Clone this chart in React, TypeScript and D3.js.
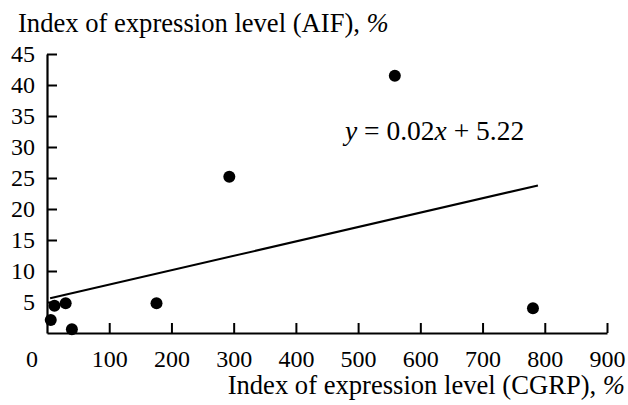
import React, { useEffect, useRef } from 'react';
import * as d3 from 'd3';

// CGRP index (x) vs AIF index (y)
const cgrp = [6, 12, 30, 40, 176, 293, 559, 781];
const aif = [2.1, 4.4, 4.8, 0.6, 4.8, 25.2, 41.5, 4.0];

// regression line endpoints as drawn
const fitX = [5, 789];
const fitY = [5.6, 23.8];

const xTicks = [100, 200, 300, 400, 500, 600, 700, 800, 900];
const yTicks = [5, 10, 15, 20, 25, 30, 35, 40, 45];

const FONT = "'Liberation Serif', 'Times New Roman', Times, serif";

const App = () => {
  const svgRef = useRef<SVGSVGElement>(null);

  useEffect(() => {
    const svg = d3.select(svgRef.current);
    svg.selectAll('*').remove();

    const width = 628;
    const height = 405;
    svg.attr('width', width).attr('height', height);

    const x = d3.scaleLinear().domain([0, 900]).range([47, 607]);
    const y = d3.scaleLinear().domain([0, 45]).range([333, 54]);

    // x axis, ticks pointing inward
    const gx = svg
      .append('g')
      .attr('transform', `translate(0,${y(0)})`)
      .call(
        d3.axisBottom(x).tickValues(xTicks).tickSizeInner(-10).tickSizeOuter(0).tickPadding(17)
      );
    gx.attr('font-size', 24);
    gx.select('.domain').attr('stroke-width', 2.2);
    gx.selectAll('.tick line').attr('stroke-width', 2);
    gx.selectAll('text').attr('fill', '#000');

    // y axis
    const gy = svg
      .append('g')
      .attr('transform', `translate(${x(0)},0)`)
      .call(
        d3.axisLeft(y).tickValues(yTicks).tickSizeInner(-10).tickSizeOuter(0).tickPadding(12)
      );
    gy.attr('font-size', 24);
    gy.select('.domain').attr('stroke-width', 2.2);
    gy.selectAll('.tick line').attr('stroke-width', 2);
    gy.selectAll('text').attr('fill', '#000');

    // shared origin label
    svg
      .append('text')
      .attr('x', 32)
      .attr('y', 367)
      .attr('text-anchor', 'middle')
      .attr('font-size', 24)
      .text('0');

    // regression line
    svg
      .append('line')
      .attr('x1', x(fitX[0]))
      .attr('y1', y(fitY[0]))
      .attr('x2', x(fitX[1]))
      .attr('y2', y(fitY[1]))
      .attr('stroke', '#000')
      .attr('stroke-width', 2);

    // points
    svg
      .selectAll('.pt')
      .data(cgrp)
      .enter()
      .append('circle')
      .attr('class', 'pt')
      .attr('cx', (d) => x(d))
      .attr('cy', (d, i) => y(aif[i]))
      .attr('r', 6)
      .attr('fill', '#000');

    // equation
    const eq = svg.append('text').attr('x', 345).attr('y', 140).attr('font-size', 27.5);
    eq.append('tspan').attr('font-style', 'italic').text('y');
    eq.append('tspan').text(' = 0.02');
    eq.append('tspan').attr('font-style', 'italic').text('x');
    eq.append('tspan').text(' + 5.22');

    // axis titles
    const yt = svg.append('text').attr('x', 18).attr('y', 32).attr('font-size', 26.6);
    yt.append('tspan').text('Index of expression level (AIF), ');
    yt.append('tspan').attr('font-style', 'italic').text('%');

    const xt = svg
      .append('text')
      .attr('x', 625)
      .attr('y', 394)
      .attr('text-anchor', 'end')
      .attr('font-size', 26.6);
    xt.append('tspan').text('Index of expression level (CGRP), ');
    xt.append('tspan').attr('font-style', 'italic').text('%');

    // one font for every text, axis groups included
    svg.selectAll('text').style('font-family', FONT);
  }, []);

  return <svg ref={svgRef} style={{ display: 'block', position: 'absolute', left: 0, top: 0 }}></svg>;
};

export default App;
